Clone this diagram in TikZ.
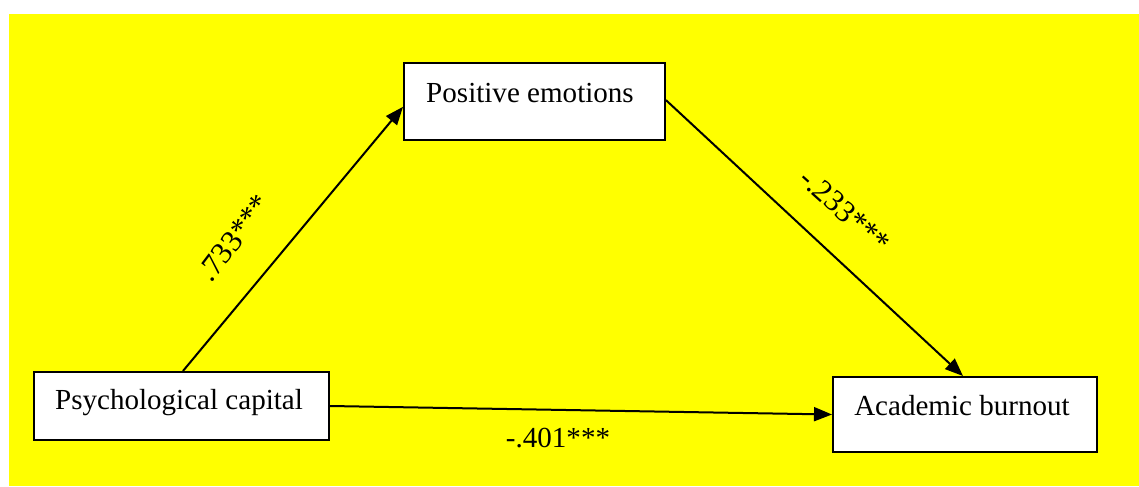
\documentclass[tikz,border=0pt]{standalone}
\usepackage{fontspec}
\setmainfont{Liberation Serif}
\usetikzlibrary{arrows.meta}
\definecolor{bgyellow}{RGB}{255,255,0}
\begin{document}
\begin{tikzpicture}[x=0.75pt,y=-0.75pt,
  box/.style={draw=black,line width=1.5pt,fill=white,inner sep=0pt},
  lbl/.style={inner sep=0pt,font=\fontsize{21.8}{26}\selectfont},
  conn/.style={line width=1.5pt,-{Triangle[length=13.5pt,width=10.5pt]}}]
\useasboundingbox (0,0) rectangle (1139,486);
\fill[white] (0,0) rectangle (1139,486);
\fill[bgyellow] (9,14) rectangle (1139,486);
% boxes
\node[box,minimum width=261*0.75pt,minimum height=77*0.75pt] (pe) at (534.5,101.5) {};
\node[box,minimum width=295*0.75pt,minimum height=68*0.75pt] (pc) at (181.5,406) {};
\node[box,minimum width=264*0.75pt,minimum height=75*0.75pt] (ab) at (965,414.5) {};
% texts
\node[lbl] (pet) at (530,93) {Positive emotions};
\node[lbl] (pct) at (179,403) {Psychological capital};
\node[lbl] (abt) at (962,406) {Academic burnout};
% connectors
\draw[conn] ([xshift=1.1pt]pc.north) -- ([yshift=-4pt]pe.west);
\draw[conn] ([yshift=1pt]pe.east) -- ([xshift=-1.5pt]ab.north);
\draw[conn] (pc.east) -- (ab.west);
% coefficients
\node[lbl,rotate=53,font=\fontsize{23}{26}\selectfont] (c1) at (234,238) {.733***};
\node[lbl,rotate=-42,font=\fontsize{23}{26}\selectfont] (c2) at (845,211) {-.233***};
\node[lbl] (c3) at (558,438) {-.401***};
\end{tikzpicture}
\end{document}
